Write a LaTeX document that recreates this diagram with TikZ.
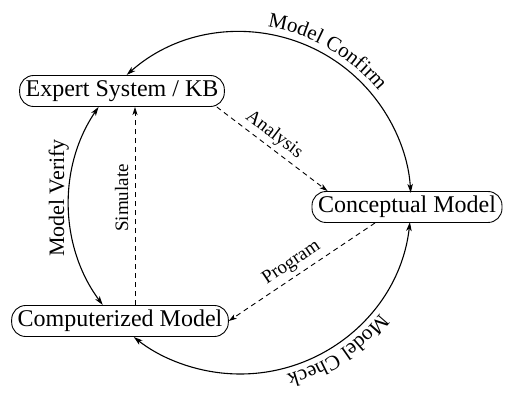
\documentclass[tikz,border=0pt]{standalone}
\usepackage{fontspec}
\setmainfont{Liberation Serif}
\usetikzlibrary{arrows.meta,decorations.text,calc}

\begin{document}
\begin{tikzpicture}[x=1pt,y=1pt,
  model/.style={draw, line width=0.9pt, rounded corners=14pt, inner xsep=6pt,
    inner ysep=0pt, minimum height=31pt, font=\fontsize{24}{26}\selectfont},
  tipA/.tip={Stealth[length=9pt,width=5.5pt,inset=2.5pt]},
  cyclearc/.style={line width=1.1pt, tipA-tipA},
  flow/.style={line width=0.9pt, dash pattern=on 5pt off 4pt,
    -{Stealth[length=8pt,width=5pt,inset=2pt]}},
  flowlabel/.style={font=\fontsize{19}{21}\selectfont},
  sidelabel/.style={font=\fontsize{22}{24}\selectfont}
]
\useasboundingbox (0,0) rectangle (509,394);

% centre of the V&V cycle
\coordinate (O) at (240,191);
\def\R{171}

% the three models
\node[model] (expert) at (122,303) {Expert System / KB};
\node[model] (concept) at (407,187) {Conceptual Model};
\node[model] (comp) at (120,73) {Computerized Model};

% end points of the cycle arcs on the node borders
\coordinate (cfA) at ($(O)+(131.5:\R)$);
\coordinate (ckA) at ($(O)+(-6.4:\R)$);
\coordinate (vfA) at ($(O)+(216.6:\R)$);

% cycle arcs
\draw[cyclearc] (cfA) arc[start angle=131.5, end angle=3.4, radius=\R];
\draw[cyclearc] (ckA) arc[start angle=-6.4, end angle=-128.4, radius=\R];
\draw[cyclearc] (vfA) arc[start angle=216.6, end angle=145.8, radius=\R];

% arc labels
\path[decorate, decoration={text along path, text align=center,
    text={|\fontsize{21}{23}\selectfont|Model Confirm}}]
  ($(O)+(95:178)$) arc[start angle=95, end angle=25, radius=178];
\path[decorate, decoration={text along path, text align=center,
    text={|\fontsize{21}{23}\selectfont|Model Check}}]
  ($(O)+(-21.5:178)$) arc[start angle=-21.5, end angle=-91.5, radius=178];
\node[sidelabel, rotate=90, anchor=base] (verify) at (64,196) {Model Verify};

% development flows
\draw[flow] ($(expert.south east)+(-8,0)$) --
  node[flowlabel, sloped, above, pos=0.45] (analysis) {Analysis}
  ($(concept.north west)+(16,0)$);
\draw[flow] ($(concept.south)+(-32,0)$) --
  node[flowlabel, sloped, above=1pt, pos=0.52] (program) {Program}
  (comp.east);
\draw[flow] ($(comp.north)+(15,0)$) -- ($(expert.south)+(13,0)$);
\node[flowlabel, rotate=90, anchor=base] (simulate) at (128,196) {Simulate};
\end{tikzpicture}
\end{document}
